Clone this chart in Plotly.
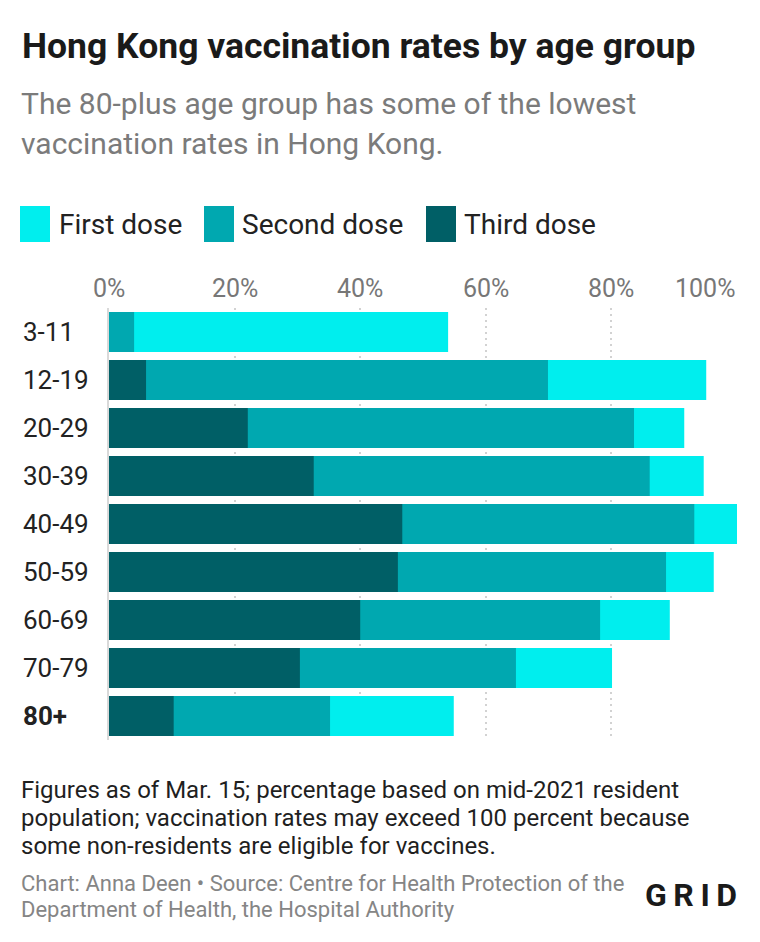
import plotly.graph_objects as go

age_groups = ["3-11", "12-19", "20-29", "30-39", "40-49", "50-59", "60-69", "70-79", "80+"]
first_dose = [54.0, 95.1, 91.6, 94.7, 100.2, 96.3, 89.3, 80.1, 54.9]
second_dose = [4.0, 69.9, 83.6, 86.1, 93.2, 88.7, 78.2, 64.8, 35.2]
third_dose = [0.0, 5.9, 22.1, 32.6, 46.7, 46.0, 40.0, 30.4, 10.3]
x_ticks = [0, 20, 40, 60, 80, 100]

series = [
    ("First dose", first_dose, "#00EEEE"),
    ("Second dose", second_dose, "#00A8B0"),
    ("Third dose", third_dose, "#005F66"),
]

# the page body has an 8px margin, so the figure is drawn 8px smaller
# and every position below is given in screen pixels
OFF = 8
W, H = 760 - OFF, 942 - OFF
PLOT_LEFT, PLOT_RIGHT, PLOT_TOP, PLOT_BOTTOM = 109, 737, 308, 740
L, R = PLOT_LEFT - OFF, 760 - PLOT_RIGHT
T, B = PLOT_TOP - OFF, 942 - PLOT_BOTTOM
PW, PH = PLOT_RIGHT - PLOT_LEFT, PLOT_BOTTOM - PLOT_TOP
FONT = "Roboto"


def px_x(p):
    return (p - PLOT_LEFT) / PW


def px_y(p):
    return (PLOT_BOTTOM - p) / PH


fig = go.Figure()
for name, vals, color in series:
    fig.add_trace(go.Bar(y=age_groups, x=vals, name=name, orientation="h",
                         marker=dict(color=color, line=dict(width=0)),
                         showlegend=False, hoverinfo="x+y"))

ann = []


def text(x, y, s, size, color, anchor="left", bold=False):
    ann.append(dict(xref="paper", yref="paper", x=px_x(x), y=px_y(y),
                    text=f"<b>{s}</b>" if bold else s, showarrow=False,
                    xanchor=anchor, yanchor="middle",
                    font=dict(family=FONT, size=size, color=color)))


text(20, 46, "Hong Kong vaccination rates by age group", 35.5, "#1a1a1a", bold=True)
text(19, 104, "The 80-plus age group has some of the lowest", 30, "#7b7b7b")
text(19, 143, "vaccination rates in Hong Kong.", 30, "#7b7b7b")

# legend
shapes = []
legend_x = [(20, 57), (204, 240), (426, 462)]
for (sx, tx), (name, _, color) in zip(legend_x, series):
    shapes.append(dict(type="rect", xref="paper", yref="paper",
                       x0=px_x(sx), x1=px_x(sx + 30), y0=px_y(206), y1=px_y(242),
                       fillcolor=color, line=dict(width=0)))
    text(tx, 224, name, 28, "#222222")

# x tick labels on top
for v in x_ticks:
    ann.append(dict(xref="x", yref="paper", x=v, y=px_y(288),
                    text=f"{v}%", showarrow=False,
                    xanchor="right" if v == 100 else "center", yanchor="middle",
                    font=dict(family=FONT, size=25, color="#777777")))

# y labels, left aligned
for i, g in enumerate(age_groups):
    text(21, 332 + 48 * i, g, 26, "#222222", bold=(g == "80+"))

notes = ["Figures as of Mar. 15; percentage based on mid-2021 resident",
         "population; vaccination rates may exceed 100 percent because",
         "some non-residents are eligible for vaccines."]
for i, s in enumerate(notes):
    text(19, 790 + 28 * i, s, 24, "#1f1f1f")

text(19, 883, "Chart: Anna Deen • Source: Centre for Health Protection of the", 22, "#858585")
text(19, 909, "Department of Health, the Hospital Authority", 22, "#858585")
ann.append(dict(xref="paper", yref="paper", x=px_x(739), y=px_y(895),
                text="<b>G\u2009R\u2009I\u2009D</b>", showarrow=False, xanchor="right", yanchor="middle",
                font=dict(family=FONT, size=32, color="#1a1a1a")))

fig.update_layout(
    width=W, height=H,
    margin=dict(l=L, r=R, t=T, b=B),
    paper_bgcolor="white", plot_bgcolor="white",
    barmode="overlay", bargap=1 / 6,
    annotations=ann, shapes=shapes,
    xaxis=dict(range=[0, 100], tickvals=x_ticks[1:], showticklabels=False,
               showgrid=True, gridcolor="#d2d2d2", gridwidth=2, griddash="2px,4px",
               zeroline=False, showline=False, fixedrange=True),
    yaxis=dict(autorange="reversed", showticklabels=False, showgrid=False,
               showline=True, linecolor="#d9d9d9", linewidth=2, ticks="",
               fixedrange=True),
)

fig.write_html("out.html")
